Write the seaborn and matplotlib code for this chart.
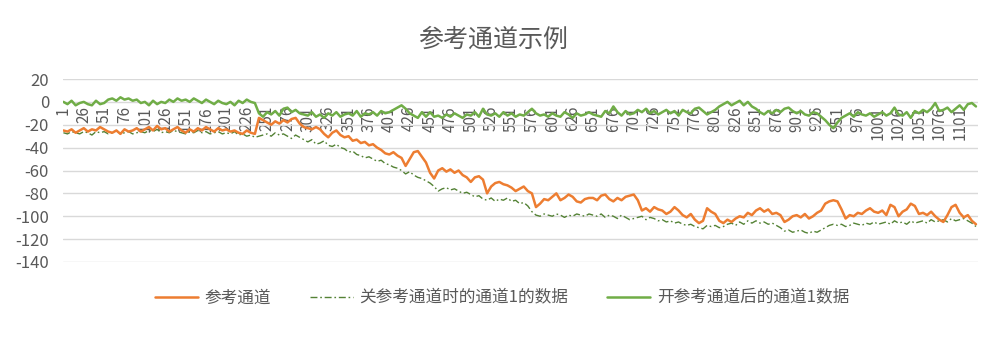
import numpy as np
import pandas as pd
import matplotlib
matplotlib.use("Agg")
import matplotlib.pyplot as plt
import seaborn as sns

# x categories (sampled every 5 samples), axis tick labels
categories = list(range(1, 1122, 5))
tick_positions = list(range(1, 1102, 25))
tick_labels = [str(t) for t in tick_positions]
y_ticks = [20, 0, -20, -40, -60, -80, -100, -120, -140]

series_names = ["参考通道", "关参考通道时的通道1的数据", "开参考通道后的通道1数据"]

ref_channel = [
    -25, -26, -24, -27, -25, -23, -26, -24, -25, -22,
    -24, -26, -27, -25, -28, -24, -26, -25, -23, -26,
    -24, -22, -25, -21, -24, -23, -26, -24, -22, -25,
    -27, -24, -26, -23, -25, -22, -24, -26, -23, -25,
    -24, -26, -25, -27, -28, -25, -27, -28, -14, -16,
    -18, -20, -17, -19, -16, -18, -15, -14, -19, -22,
    -23, -24, -22, -24, -28, -31, -27, -25, -29, -31,
    -30, -34, -33, -36, -35, -38, -37, -40, -42, -45,
    -46, -44, -47, -49, -56, -50, -44, -43, -48, -53,
    -62, -67, -60, -58, -61, -59, -62, -60, -64, -66,
    -70, -66, -65, -68, -80, -74, -71, -70, -72, -73,
    -75, -78, -76, -74, -78, -80, -92, -89, -85, -86,
    -83, -80, -86, -84, -81, -83, -87, -88, -85, -84,
    -84, -86, -82, -81, -85, -87, -84, -86, -83, -82,
    -81, -86, -95, -93, -96, -92, -94, -95, -98, -96,
    -92, -95, -99, -101, -98, -103, -106, -104, -93, -96,
    -98, -104, -106, -103, -105, -102, -100, -101, -97, -99,
    -95, -93, -96, -94, -98, -97, -99, -105, -103, -100,
    -99, -101, -98, -102, -100, -97, -95, -89, -87, -86,
    -87, -94, -102, -99, -100, -97, -98, -95, -93, -96,
    -97, -95, -99, -90, -92, -100, -96, -94, -89, -91,
    -98, -97, -99, -96, -100, -103, -105, -99, -92, -90,
    -97, -101, -99, -104, -107,
]

ch1_off = [
    -27, -28, -26, -27, -28, -26, -27, -29, -26, -27,
    -26, -28, -27, -25, -28, -27, -26, -28, -27, -26,
    -27, -25, -26, -24, -27, -26, -27, -25, -26, -27,
    -28, -26, -27, -25, -27, -26, -28, -27, -26, -28,
    -27, -28, -26, -29, -28, -30, -29, -31, -30, -29,
    -28, -30, -27, -29, -28, -30, -32, -29, -31, -33,
    -35, -33, -37, -36, -34, -38, -39, -37, -40, -41,
    -44, -43, -46, -47, -49, -48, -50, -52, -51, -54,
    -55, -57, -58, -60, -63, -61, -64, -66, -67, -69,
    -71, -74, -78, -76, -75, -77, -76, -78, -80, -79,
    -81, -83, -82, -85, -86, -84, -87, -85, -86, -84,
    -87, -86, -89, -88, -91, -96, -99, -100, -98, -99,
    -100, -98, -99, -101, -99, -100, -98, -99, -100, -98,
    -99, -100, -98, -101, -99, -100, -102, -99, -101, -103,
    -102, -101, -100, -103, -101, -102, -104, -103, -105, -104,
    -106, -105, -107, -108, -107, -109, -110, -111, -108, -109,
    -108, -110, -109, -107, -106, -108, -105, -107, -104, -106,
    -104, -106, -105, -107, -106, -108, -110, -113, -112, -114,
    -113, -112, -114, -115, -113, -114, -112, -110, -108, -107,
    -108, -107, -109, -108, -106, -107, -108, -106, -107, -105,
    -107, -106, -105, -107, -104, -106, -105, -107, -104, -106,
    -105, -104, -106, -103, -105, -104, -103, -105, -102, -104,
    -103, -102, -104, -106, -109,
]

ch1_on = [
    0, -2, 1, -3, -1, 0, -2, -3, 1, -2,
    -1, 2, 3, 1, 4, 2, 3, 1, 2, -1,
    0, -3, 1, -2, 0, -1, 2, 0, 3, 1,
    2, 0, 3, 1, -1, 2, 0, -2, 1, -1,
    -2, 0, -3, 1, -1, 2, 0, -1, -10, -13,
    -9, -11, -8, -12, -6, -5, -9, -7, -10, -11,
    -12, -9, -13, -11, -14, -10, -12, -9, -13, -11,
    -10, -12, -8, -13, -10, -11, -9, -12, -8, -10,
    -9, -7, -5, -3, -6, -10, -12, -14, -9, -13,
    -9, -13, -12, -14, -11, -13, -10, -12, -14, -11,
    -12, -9, -13, -6, -11, -12, -10, -13, -9, -12,
    -10, -13, -11, -12, -9, -6, -10, -12, -11, -13,
    -10, -12, -13, -9, -11, -14, -10, -12, -11, -9,
    -11, -12, -13, -8, -10, -4, -9, -12, -8, -11,
    -10, -7, -9, -6, -10, -8, -11, -9, -7, -10,
    -8, -12, -7, -9, -10, -6, -5, -8, -11, -9,
    -7, -4, -2, 0, -3, -1, 1, -3, 0, -4,
    -6, -9, -11, -8, -10, -7, -9, -6, -5, -8,
    -10, -8, -11, -12, -9, -10, -13, -16, -20, -23,
    -18, -14, -12, -10, -13, -9, -11, -12, -10, -13,
    -11, -9, -12, -10, -5, -11, -12, -9, -14, -8,
    -10, -7, -9, -6, -1, -8, -7, -5, -9, -6,
    -3, -7, -2, -1, -4,
]

df = pd.DataFrame({
    "x": categories * 3,
    "y": ref_channel + ch1_off + ch1_on,
    "series": [series_names[0]] * len(categories)
              + [series_names[1]] * len(categories)
              + [series_names[2]] * len(categories),
})

sns.set_theme(style="white")
plt.rcParams['font.family'] = ['Noto Sans CJK SC', 'DejaVu Sans']
plt.rcParams['axes.unicode_minus'] = False

TEXT = "#595959"
fig = plt.figure(figsize=(9.92, 3.38), dpi=100)
fig.patch.set_facecolor("white")
ax = fig.add_axes([63 / 992, 1 - 262 / 338, (978 - 63) / 992, (262 - 79) / 338])

sns.lineplot(data=df[df.series == series_names[1]], x="x", y="y", ax=ax,
             color="#548235", linewidth=1.0, linestyle=(0, (5, 2, 1.2, 2)),
             label=series_names[1], zorder=2)
sns.lineplot(data=df[df.series == series_names[0]], x="x", y="y", ax=ax,
             color="#ED7D31", linewidth=1.8, label=series_names[0], zorder=3)
sns.lineplot(data=df[df.series == series_names[2]], x="x", y="y", ax=ax,
             color="#70AD47", linewidth=1.8, label=series_names[2], zorder=4)

ax.set_xlim(0.5, 1123.5)
ax.set_ylim(-140, 20)
ax.set_yticks(y_ticks)
ax.set_yticklabels([str(v) for v in y_ticks])
ax.set_xticks(tick_positions)
ax.set_xticklabels(tick_labels)
ax.set_xlabel("")
ax.set_ylabel("")
ax.yaxis.grid(True, color="#D9D9D9", linewidth=1)
ax.xaxis.grid(False)
for s in ["top", "right", "left"]:
    ax.spines[s].set_visible(False)
ax.spines["bottom"].set_position(("data", 0))
ax.spines["bottom"].set_visible(False)
ax.tick_params(axis="x", length=0, pad=3, labelrotation=90, labelsize=11, colors=TEXT)
ax.tick_params(axis="y", length=0, pad=10, labelsize=12, colors=TEXT)
ax.set_facecolor("white")

handles, labels = ax.get_legend_handles_labels()
order = [labels.index(n) for n in series_names]
ax.get_legend().remove()
leg = fig.legend([handles[i] for i in order], [labels[i] for i in order],
                 loc="center", bbox_to_anchor=(0.506, 1 - 298 / 338), ncol=3,
                 frameon=False, fontsize=12, handlelength=2.6, handletextpad=0.4,
                 columnspacing=2.3)
for t in leg.get_texts():
    t.set_color(TEXT)

fig.text(0.497, 1 - 40 / 338, "参考通道示例", ha="center", va="center",
         fontsize=18, color=TEXT)

fig.savefig("out.png", dpi=100, facecolor="white")
